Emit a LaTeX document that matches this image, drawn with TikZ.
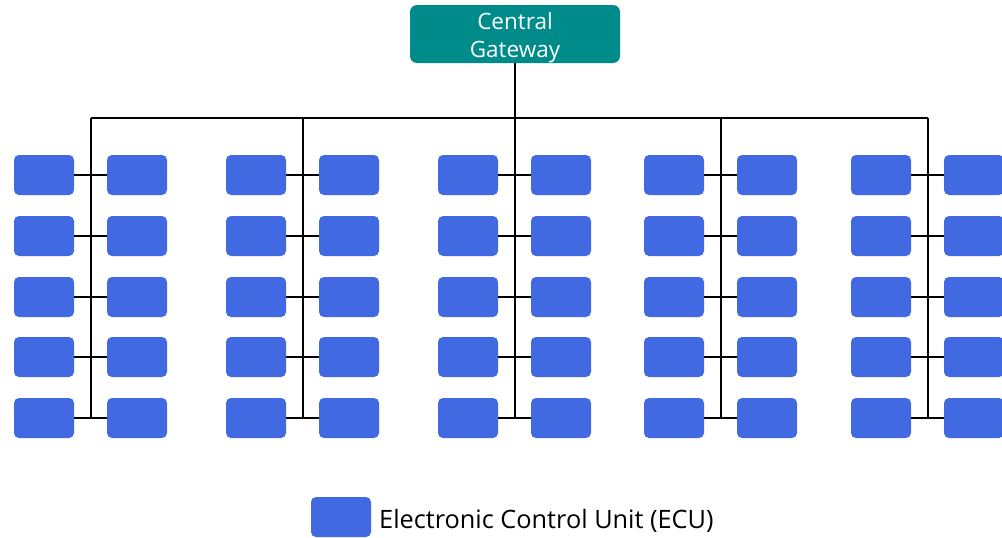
\documentclass[tikz,border=0pt]{standalone}
\usepackage{fontspec}
\setmainfont{Open Sans}
\definecolor{gwteal}{RGB}{0,139,139}
\definecolor{ecublue}{RGB}{65,105,225}
\begin{document}
\begin{tikzpicture}[x=1pt,y=-1pt,
  ecu/.style={fill=ecublue,draw=none,rounded corners=5pt,minimum width=60pt,minimum height=40pt,inner sep=0pt},
  gw/.style={fill=gwteal,draw=none,rounded corners=7pt,minimum width=210pt,minimum height=58pt,inner sep=0pt},
  gwtext/.style={text=white,align=center,inner sep=0pt,font=\fontsize{22.5}{28}\selectfont},
  wire/.style={line width=2pt,black},
  legendtext/.style={anchor=west,inner sep=0pt,font=\fontsize{25.3}{28}\selectfont}]
\path[use as bounding box,clip] (0,0) rectangle (1002,538);
\node[gw] (gw) at (515,34) {};
\node[gwtext] (gwt) at (515,38) {Central\\Gateway};
\foreach \b [count=\i] in {91,303,515,721,928}{
  \coordinate (top\i) at (\b,118);
  \coordinate (bot\i) at (\b,418);
  \foreach \r [count=\j] in {175,236,297,357,418}{
    \node[ecu] (L\i-\j) at (\b-47,\r) {};
    \node[ecu] (R\i-\j) at (\b+46,\r) {};
    \draw[wire] (L\i-\j.east) -- (R\i-\j.west);
  }
  \draw[wire] (top\i) -- (bot\i);
}
\draw[wire] (gw.south) -- (top3);
\draw[wire] (top1) -- (top5);
\node[ecu] (leg) at (341,517) {};
\node[legendtext] (legt) at (379,521) {Electronic Control Unit (ECU)};
\end{tikzpicture}
\end{document}
